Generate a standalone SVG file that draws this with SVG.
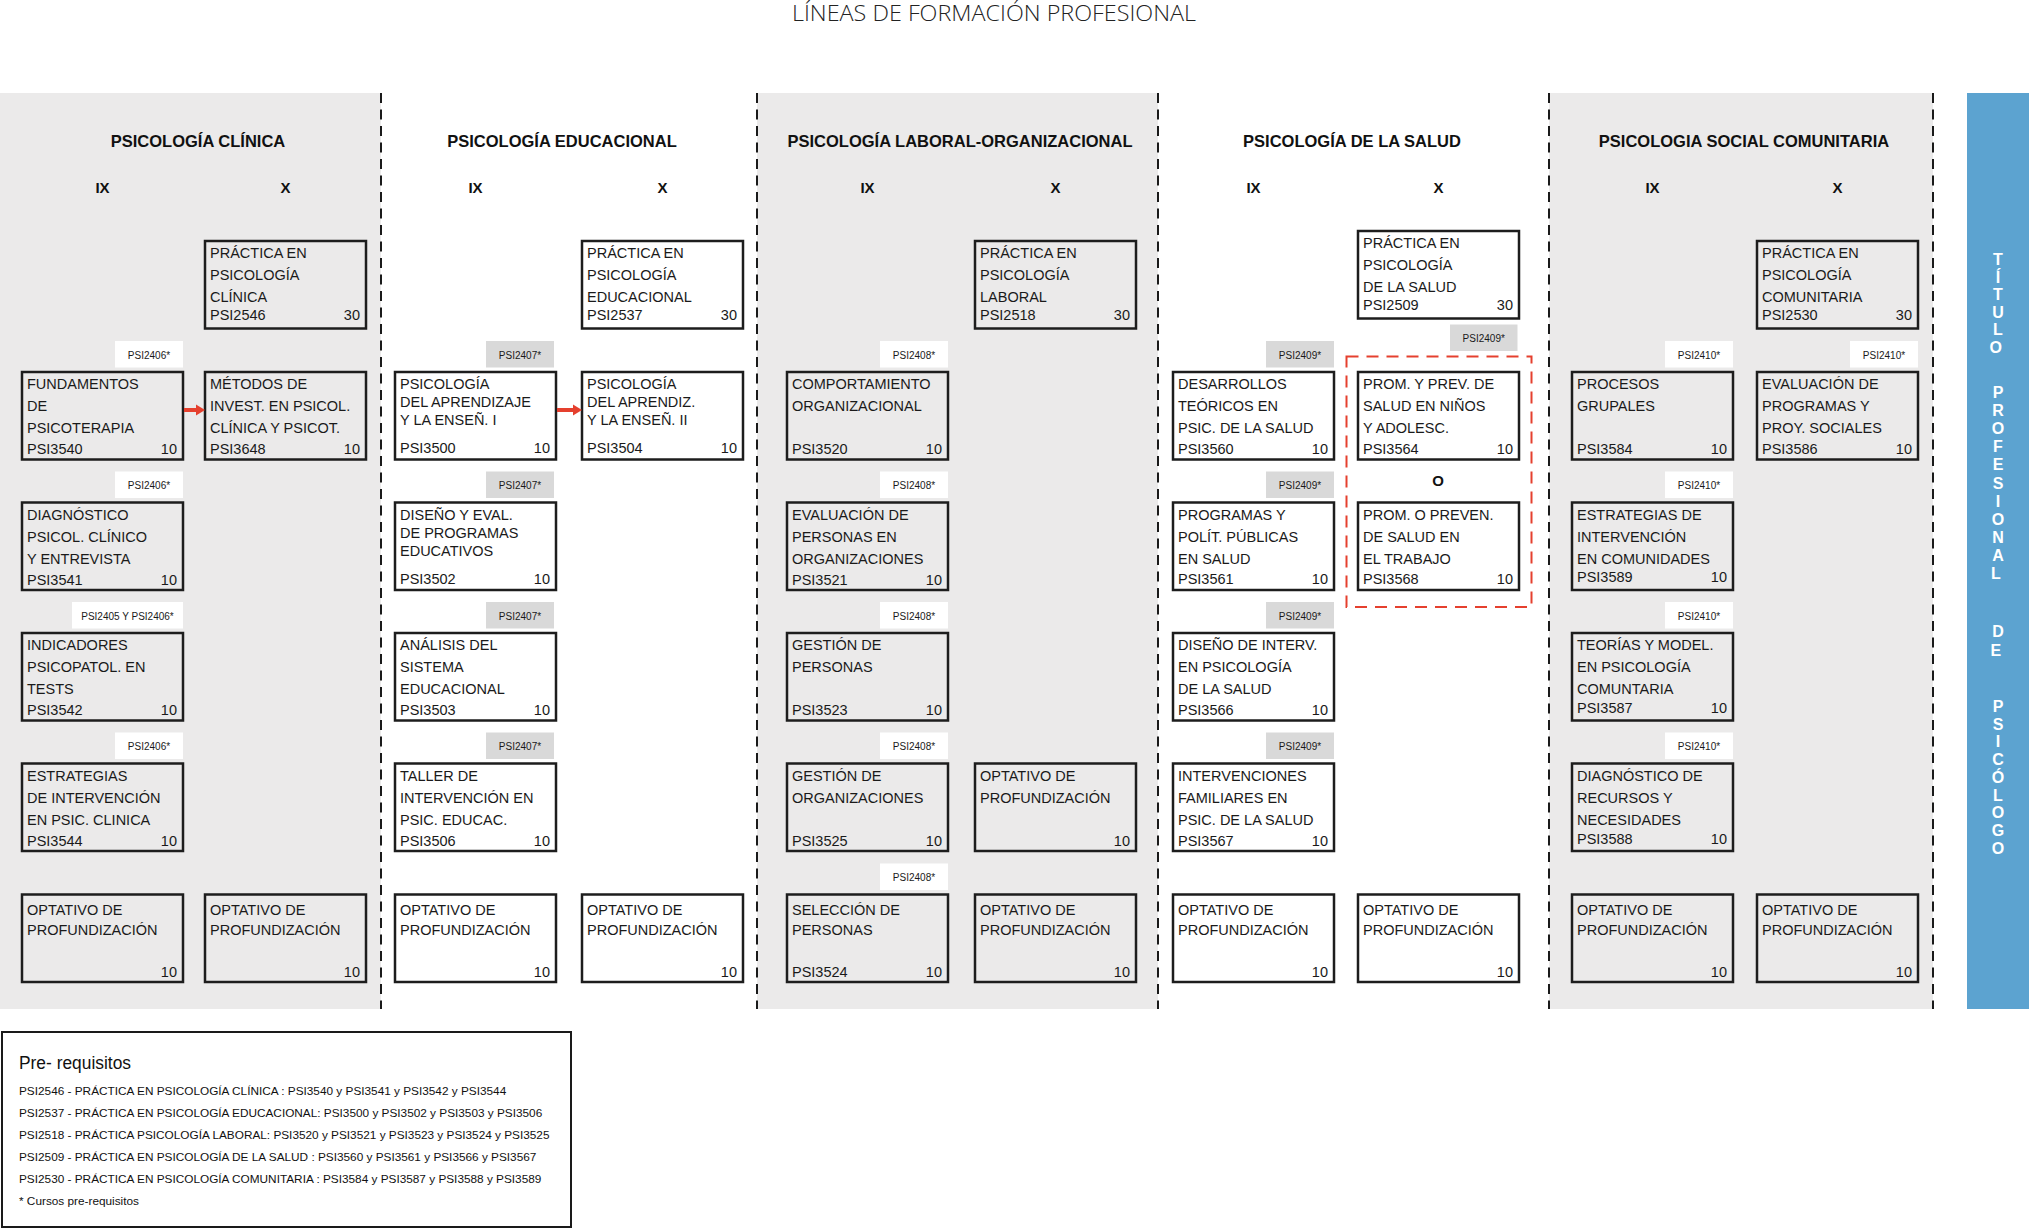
<svg xmlns="http://www.w3.org/2000/svg" width="2029" height="1230" viewBox="0 0 2029 1230">
<style>
.panel{fill:#ebeaea}
.div{stroke:#1a1a1a;stroke-width:2;stroke-dasharray:10 6.5;fill:none}
.box{fill:none;stroke:#1d1d1d;stroke-width:2.5}
.t{font-family:"Liberation Sans",Arial,sans-serif;font-size:14.5px;fill:#1a1a1a}
.n{text-anchor:end}
.tagw{fill:#ffffff}
.tagg{fill:#d9d9d9}
.tt{font-family:"Liberation Sans",Arial,sans-serif;font-size:10px;fill:#1a1a1a;text-anchor:middle}
.h{font-family:"Liberation Sans",Arial,sans-serif;font-weight:bold;font-size:16.5px;fill:#111;text-anchor:middle}
.sem{font-family:"Liberation Sans",Arial,sans-serif;font-weight:bold;font-size:15px;fill:#111;text-anchor:middle}
.red{stroke:#e5402e;stroke-width:4;fill:none}
.vt{font-family:"Liberation Sans",Arial,sans-serif;font-weight:bold;font-size:16px;fill:#ffffff;text-anchor:middle}
.pr{font-family:"Liberation Sans",Arial,sans-serif;font-size:11.8px;fill:#111}
</style>
<defs>
<marker id="ah" viewBox="0 0 10 12" refX="0" refY="6" markerWidth="9" markerHeight="12" markerUnits="userSpaceOnUse" orient="auto">
<path d="M0,0 L10,6 L0,12 Z" fill="#e5402e"/>
</marker>
</defs>
<rect width="2029" height="1230" fill="#ffffff"/>
<text x="994" y="21" text-anchor="middle" textLength="404" lengthAdjust="spacingAndGlyphs" font-family="'Open Sans','Liberation Sans',sans-serif" font-weight="300" font-size="22" fill="#222">LÍNEAS DE FORMACIÓN PROFESIONAL</text>

<g id="panels">
<rect class="panel" x="0" y="93" width="381" height="916"/>
<rect class="panel" x="757" y="93" width="401" height="916"/>
<rect class="panel" x="1549" y="93" width="384" height="916"/>
<path class="div" d="M381,93 V1009 M757,93 V1009 M1158,93 V1009 M1549,93 V1009 M1933,93 V1009"/>
</g>

<g id="titulo">
<rect x="1967" y="93" width="62" height="916" fill="#5ca3d0"/>
<text class="vt">
<tspan x="1998" y="265">T</tspan><tspan x="1998" y="282.6">Í</tspan><tspan x="1998" y="300.2">T</tspan><tspan x="1998" y="317.8">U</tspan><tspan x="1998" y="335.4">L</tspan><tspan x="1998" y="353">O</tspan>
<tspan x="1998" y="398">P</tspan><tspan x="1998" y="416.1">R</tspan><tspan x="1998" y="434.2">O</tspan><tspan x="1998" y="452.3">F</tspan><tspan x="1998" y="470.4">E</tspan><tspan x="1998" y="488.5">S</tspan><tspan x="1998" y="506.6">I</tspan><tspan x="1998" y="524.7">O</tspan><tspan x="1998" y="542.8">N</tspan><tspan x="1998" y="560.9">A</tspan><tspan x="1998" y="579">L</tspan>
<tspan x="1998" y="637">D</tspan><tspan x="1998" y="656">E</tspan>
<tspan x="1998" y="712">P</tspan><tspan x="1998" y="729.7">S</tspan><tspan x="1998" y="747.4">I</tspan><tspan x="1998" y="765.1">C</tspan><tspan x="1998" y="782.8">Ó</tspan><tspan x="1998" y="800.5">L</tspan><tspan x="1998" y="818.2">O</tspan><tspan x="1998" y="835.9">G</tspan><tspan x="1998" y="853.6">O</tspan>
</text>
</g>

<g id="headers">
<text class="h" x="198" y="147">PSICOLOGÍA CLÍNICA</text>
<text class="h" x="562" y="147">PSICOLOGÍA EDUCACIONAL</text>
<text class="h" x="960" y="147">PSICOLOGÍA LABORAL-ORGANIZACIONAL</text>
<text class="h" x="1352" y="147">PSICOLOGÍA DE LA SALUD</text>
<text class="h" x="1744" y="147">PSICOLOGIA SOCIAL COMUNITARIA</text>
<text class="sem" x="102.5" y="193">IX</text><text class="sem" x="285.5" y="193">X</text>
<text class="sem" x="475.5" y="193">IX</text><text class="sem" x="662.5" y="193">X</text>
<text class="sem" x="867.5" y="193">IX</text><text class="sem" x="1055.5" y="193">X</text>
<text class="sem" x="1253.5" y="193">IX</text><text class="sem" x="1438.5" y="193">X</text>
<text class="sem" x="1652.5" y="193">IX</text><text class="sem" x="1837.5" y="193">X</text>
</g>

<!-- CLINICA -->
<g id="psi2546" transform="translate(205,241)"><rect class="box" width="161" height="87.5"/><text class="t"><tspan x="5" y="17">PRÁCTICA EN</tspan><tspan x="5" y="39">PSICOLOGÍA</tspan><tspan x="5" y="61">CLÍNICA</tspan><tspan x="5" y="79">PSI2546</tspan></text><text class="t n" x="155" y="79">30</text></g>
<g id="psi3540" transform="translate(22,372)"><rect class="tagw" x="93" y="-31" width="68" height="26.5"/><text class="tt" x="127" y="-13.5">PSI2406*</text><rect class="box" width="161" height="87.5"/><text class="t"><tspan x="5" y="17">FUNDAMENTOS</tspan><tspan x="5" y="39">DE</tspan><tspan x="5" y="61">PSICOTERAPIA</tspan><tspan x="5" y="82">PSI3540</tspan></text><text class="t n" x="155" y="82">10</text></g>
<g id="psi3648" transform="translate(205,372)"><rect class="box" width="161" height="87.5"/><text class="t"><tspan x="5" y="17">MÉTODOS DE</tspan><tspan x="5" y="39">INVEST. EN PSICOL.</tspan><tspan x="5" y="61">CLÍNICA Y PSICOT.</tspan><tspan x="5" y="82">PSI3648</tspan></text><text class="t n" x="155" y="82">10</text></g>
<g id="psi3541" transform="translate(22,502.5)"><rect class="tagw" x="93" y="-31" width="68" height="26.5"/><text class="tt" x="127" y="-13.5">PSI2406*</text><rect class="box" width="161" height="87.5"/><text class="t"><tspan x="5" y="17">DIAGNÓSTICO</tspan><tspan x="5" y="39">PSICOL. CLÍNICO</tspan><tspan x="5" y="61">Y ENTREVISTA</tspan><tspan x="5" y="82">PSI3541</tspan></text><text class="t n" x="155" y="82">10</text></g>
<g id="psi3542" transform="translate(22,633)"><rect class="tagw" x="50" y="-31" width="111" height="26.5"/><text class="tt" x="105.5" y="-13.5">PSI2405 Y PSI2406*</text><rect class="box" width="161" height="87.5"/><text class="t"><tspan x="5" y="17">INDICADORES</tspan><tspan x="5" y="39">PSICOPATOL. EN</tspan><tspan x="5" y="61">TESTS</tspan><tspan x="5" y="82">PSI3542</tspan></text><text class="t n" x="155" y="82">10</text></g>
<g id="psi3544" transform="translate(22,763.5)"><rect class="tagw" x="93" y="-31" width="68" height="26.5"/><text class="tt" x="127" y="-13.5">PSI2406*</text><rect class="box" width="161" height="87.5"/><text class="t"><tspan x="5" y="17">ESTRATEGIAS</tspan><tspan x="5" y="39">DE INTERVENCIÓN</tspan><tspan x="5" y="61">EN PSIC. CLINICA</tspan><tspan x="5" y="82">PSI3544</tspan></text><text class="t n" x="155" y="82">10</text></g>
<g id="opt-cli-ix" transform="translate(22,894.5)"><rect class="box" width="161" height="87.5"/><text class="t"><tspan x="5" y="20">OPTATIVO DE</tspan><tspan x="5" y="40">PROFUNDIZACIÓN</tspan></text><text class="t n" x="155" y="82">10</text></g>
<g id="opt-cli-x" transform="translate(205,894.5)"><rect class="box" width="161" height="87.5"/><text class="t"><tspan x="5" y="20">OPTATIVO DE</tspan><tspan x="5" y="40">PROFUNDIZACIÓN</tspan></text><text class="t n" x="155" y="82">10</text></g>

<!-- EDUCACIONAL -->
<g id="psi2537" transform="translate(582,241)"><rect class="box" width="161" height="87.5"/><text class="t"><tspan x="5" y="17">PRÁCTICA EN</tspan><tspan x="5" y="39">PSICOLOGÍA</tspan><tspan x="5" y="61">EDUCACIONAL</tspan><tspan x="5" y="79">PSI2537</tspan></text><text class="t n" x="155" y="79">30</text></g>
<g id="psi3500" transform="translate(395,372)"><rect class="tagg" x="91" y="-31" width="68" height="26.5"/><text class="tt" x="125" y="-13.5">PSI2407*</text><rect class="box" width="161" height="87.5"/><text class="t"><tspan x="5" y="17">PSICOLOGÍA</tspan><tspan x="5" y="35">DEL APRENDIZAJE</tspan><tspan x="5" y="53">Y LA ENSEÑ. I</tspan><tspan x="5" y="81">PSI3500</tspan></text><text class="t n" x="155" y="81">10</text></g>
<g id="psi3504" transform="translate(582,372)"><rect class="box" width="161" height="87.5"/><text class="t"><tspan x="5" y="17">PSICOLOGÍA</tspan><tspan x="5" y="35">DEL APRENDIZ.</tspan><tspan x="5" y="53">Y LA ENSEÑ. II</tspan><tspan x="5" y="81">PSI3504</tspan></text><text class="t n" x="155" y="81">10</text></g>
<g id="psi3502" transform="translate(395,502.5)"><rect class="tagg" x="91" y="-31" width="68" height="26.5"/><text class="tt" x="125" y="-13.5">PSI2407*</text><rect class="box" width="161" height="87.5"/><text class="t"><tspan x="5" y="17">DISEÑO Y EVAL.</tspan><tspan x="5" y="35">DE PROGRAMAS</tspan><tspan x="5" y="53">EDUCATIVOS</tspan><tspan x="5" y="81">PSI3502</tspan></text><text class="t n" x="155" y="81">10</text></g>
<g id="psi3503" transform="translate(395,633)"><rect class="tagg" x="91" y="-31" width="68" height="26.5"/><text class="tt" x="125" y="-13.5">PSI2407*</text><rect class="box" width="161" height="87.5"/><text class="t"><tspan x="5" y="17">ANÁLISIS DEL</tspan><tspan x="5" y="39">SISTEMA</tspan><tspan x="5" y="61">EDUCACIONAL</tspan><tspan x="5" y="82">PSI3503</tspan></text><text class="t n" x="155" y="82">10</text></g>
<g id="psi3506" transform="translate(395,763.5)"><rect class="tagg" x="91" y="-31" width="68" height="26.5"/><text class="tt" x="125" y="-13.5">PSI2407*</text><rect class="box" width="161" height="87.5"/><text class="t"><tspan x="5" y="17">TALLER DE</tspan><tspan x="5" y="39">INTERVENCIÓN EN</tspan><tspan x="5" y="61">PSIC. EDUCAC.</tspan><tspan x="5" y="82">PSI3506</tspan></text><text class="t n" x="155" y="82">10</text></g>
<g id="opt-edu-ix" transform="translate(395,894.5)"><rect class="box" width="161" height="87.5"/><text class="t"><tspan x="5" y="20">OPTATIVO DE</tspan><tspan x="5" y="40">PROFUNDIZACIÓN</tspan></text><text class="t n" x="155" y="82">10</text></g>
<g id="opt-edu-x" transform="translate(582,894.5)"><rect class="box" width="161" height="87.5"/><text class="t"><tspan x="5" y="20">OPTATIVO DE</tspan><tspan x="5" y="40">PROFUNDIZACIÓN</tspan></text><text class="t n" x="155" y="82">10</text></g>

<!-- LABORAL -->
<g id="psi2518" transform="translate(975,241)"><rect class="box" width="161" height="87.5"/><text class="t"><tspan x="5" y="17">PRÁCTICA EN</tspan><tspan x="5" y="39">PSICOLOGÍA</tspan><tspan x="5" y="61">LABORAL</tspan><tspan x="5" y="79">PSI2518</tspan></text><text class="t n" x="155" y="79">30</text></g>
<g id="psi3520" transform="translate(787,372)"><rect class="tagw" x="93" y="-31" width="68" height="26.5"/><text class="tt" x="127" y="-13.5">PSI2408*</text><rect class="box" width="161" height="87.5"/><text class="t"><tspan x="5" y="17">COMPORTAMIENTO</tspan><tspan x="5" y="39">ORGANIZACIONAL</tspan><tspan x="5" y="82">PSI3520</tspan></text><text class="t n" x="155" y="82">10</text></g>
<g id="psi3521" transform="translate(787,502.5)"><rect class="tagw" x="93" y="-31" width="68" height="26.5"/><text class="tt" x="127" y="-13.5">PSI2408*</text><rect class="box" width="161" height="87.5"/><text class="t"><tspan x="5" y="17">EVALUACIÓN DE</tspan><tspan x="5" y="39">PERSONAS EN</tspan><tspan x="5" y="61">ORGANIZACIONES</tspan><tspan x="5" y="82">PSI3521</tspan></text><text class="t n" x="155" y="82">10</text></g>
<g id="psi3523" transform="translate(787,633)"><rect class="tagw" x="93" y="-31" width="68" height="26.5"/><text class="tt" x="127" y="-13.5">PSI2408*</text><rect class="box" width="161" height="87.5"/><text class="t"><tspan x="5" y="17">GESTIÓN DE</tspan><tspan x="5" y="39">PERSONAS</tspan><tspan x="5" y="82">PSI3523</tspan></text><text class="t n" x="155" y="82">10</text></g>
<g id="psi3525" transform="translate(787,763.5)"><rect class="tagw" x="93" y="-31" width="68" height="26.5"/><text class="tt" x="127" y="-13.5">PSI2408*</text><rect class="box" width="161" height="87.5"/><text class="t"><tspan x="5" y="17">GESTIÓN DE</tspan><tspan x="5" y="39">ORGANIZACIONES</tspan><tspan x="5" y="82">PSI3525</tspan></text><text class="t n" x="155" y="82">10</text></g>
<g id="opt-lab-x4" transform="translate(975,763.5)"><rect class="box" width="161" height="87.5"/><text class="t"><tspan x="5" y="17">OPTATIVO DE</tspan><tspan x="5" y="39">PROFUNDIZACIÓN</tspan></text><text class="t n" x="155" y="82">10</text></g>
<g id="psi3524" transform="translate(787,894.5)"><rect class="tagw" x="93" y="-31" width="68" height="26.5"/><text class="tt" x="127" y="-13.5">PSI2408*</text><rect class="box" width="161" height="87.5"/><text class="t"><tspan x="5" y="20">SELECCIÓN DE</tspan><tspan x="5" y="40">PERSONAS</tspan><tspan x="5" y="82">PSI3524</tspan></text><text class="t n" x="155" y="82">10</text></g>
<g id="opt-lab-x5" transform="translate(975,894.5)"><rect class="box" width="161" height="87.5"/><text class="t"><tspan x="5" y="20">OPTATIVO DE</tspan><tspan x="5" y="40">PROFUNDIZACIÓN</tspan></text><text class="t n" x="155" y="82">10</text></g>

<!-- SALUD -->
<g id="psi2509" transform="translate(1358,231)"><rect class="box" width="161" height="87.5"/><text class="t"><tspan x="5" y="16.5">PRÁCTICA EN</tspan><tspan x="5" y="38.5">PSICOLOGÍA</tspan><tspan x="5" y="60.5">DE LA SALUD</tspan><tspan x="5" y="78.5">PSI2509</tspan></text><text class="t n" x="155" y="78.5">30</text></g>
<g id="tag-salud-x" transform="translate(1450,324.5)"><rect class="tagg" width="67.5" height="26.5"/><text class="tt" x="33.75" y="17.5">PSI2409*</text></g>
<g id="psi3560" transform="translate(1173,372)"><rect class="tagg" x="93" y="-31" width="68" height="26.5"/><text class="tt" x="127" y="-13.5">PSI2409*</text><rect class="box" width="161" height="87.5"/><text class="t"><tspan x="5" y="17">DESARROLLOS</tspan><tspan x="5" y="39">TEÓRICOS EN</tspan><tspan x="5" y="61">PSIC. DE LA SALUD</tspan><tspan x="5" y="81.5">PSI3560</tspan></text><text class="t n" x="155" y="81.5">10</text></g>
<g id="psi3564" transform="translate(1358,372)"><rect class="box" width="161" height="87.5"/><text class="t"><tspan x="5" y="17">PROM. Y PREV. DE</tspan><tspan x="5" y="39">SALUD EN NIÑOS</tspan><tspan x="5" y="61">Y ADOLESC.</tspan><tspan x="5" y="81.5">PSI3564</tspan></text><text class="t n" x="155" y="81.5">10</text></g>
<g id="psi3561" transform="translate(1173,502.5)"><rect class="tagg" x="93" y="-31" width="68" height="26.5"/><text class="tt" x="127" y="-13.5">PSI2409*</text><rect class="box" width="161" height="87.5"/><text class="t"><tspan x="5" y="17">PROGRAMAS Y</tspan><tspan x="5" y="39">POLÍT. PÚBLICAS</tspan><tspan x="5" y="61">EN SALUD</tspan><tspan x="5" y="81.5">PSI3561</tspan></text><text class="t n" x="155" y="81.5">10</text></g>
<g id="psi3568" transform="translate(1358,502.5)"><rect class="box" width="161" height="87.5"/><text class="t"><tspan x="5" y="17">PROM. O PREVEN.</tspan><tspan x="5" y="39">DE SALUD EN</tspan><tspan x="5" y="61">EL TRABAJO</tspan><tspan x="5" y="81.5">PSI3568</tspan></text><text class="t n" x="155" y="81.5">10</text></g>
<g id="opcion-o"><rect x="1346.5" y="356.5" width="185" height="250.5" fill="none" stroke="#e5402e" stroke-width="2" stroke-dasharray="12 8"/><text class="sem" x="1438" y="485.5">O</text></g>
<g id="psi3566" transform="translate(1173,633)"><rect class="tagg" x="93" y="-31" width="68" height="26.5"/><text class="tt" x="127" y="-13.5">PSI2409*</text><rect class="box" width="161" height="87.5"/><text class="t"><tspan x="5" y="17">DISEÑO DE INTERV.</tspan><tspan x="5" y="39">EN PSICOLOGÍA</tspan><tspan x="5" y="61">DE LA SALUD</tspan><tspan x="5" y="82">PSI3566</tspan></text><text class="t n" x="155" y="82">10</text></g>
<g id="psi3567" transform="translate(1173,763.5)"><rect class="tagg" x="93" y="-31" width="68" height="26.5"/><text class="tt" x="127" y="-13.5">PSI2409*</text><rect class="box" width="161" height="87.5"/><text class="t"><tspan x="5" y="17">INTERVENCIONES</tspan><tspan x="5" y="39">FAMILIARES EN</tspan><tspan x="5" y="61">PSIC. DE LA SALUD</tspan><tspan x="5" y="82">PSI3567</tspan></text><text class="t n" x="155" y="82">10</text></g>
<g id="opt-sal-ix" transform="translate(1173,894.5)"><rect class="box" width="161" height="87.5"/><text class="t"><tspan x="5" y="20">OPTATIVO DE</tspan><tspan x="5" y="40">PROFUNDIZACIÓN</tspan></text><text class="t n" x="155" y="82">10</text></g>
<g id="opt-sal-x" transform="translate(1358,894.5)"><rect class="box" width="161" height="87.5"/><text class="t"><tspan x="5" y="20">OPTATIVO DE</tspan><tspan x="5" y="40">PROFUNDIZACIÓN</tspan></text><text class="t n" x="155" y="82">10</text></g>

<!-- SOCIAL COMUNITARIA -->
<g id="psi2530" transform="translate(1757,241)"><rect class="box" width="161" height="87.5"/><text class="t"><tspan x="5" y="17">PRÁCTICA EN</tspan><tspan x="5" y="39">PSICOLOGÍA</tspan><tspan x="5" y="61">COMUNITARIA</tspan><tspan x="5" y="79">PSI2530</tspan></text><text class="t n" x="155" y="79">30</text></g>
<g id="psi3584" transform="translate(1572,372)"><rect class="tagw" x="93" y="-31" width="68" height="26.5"/><text class="tt" x="127" y="-13.5">PSI2410*</text><rect class="box" width="161" height="87.5"/><text class="t"><tspan x="5" y="17">PROCESOS</tspan><tspan x="5" y="39">GRUPALES</tspan><tspan x="5" y="82">PSI3584</tspan></text><text class="t n" x="155" y="82">10</text></g>
<g id="psi3586" transform="translate(1757,372)"><rect class="tagw" x="93" y="-31" width="68" height="26.5"/><text class="tt" x="127" y="-13.5">PSI2410*</text><rect class="box" width="161" height="87.5"/><text class="t"><tspan x="5" y="17">EVALUACIÓN DE</tspan><tspan x="5" y="39">PROGRAMAS Y</tspan><tspan x="5" y="61">PROY. SOCIALES</tspan><tspan x="5" y="82">PSI3586</tspan></text><text class="t n" x="155" y="82">10</text></g>
<g id="psi3589" transform="translate(1572,502.5)"><rect class="tagw" x="93" y="-31" width="68" height="26.5"/><text class="tt" x="127" y="-13.5">PSI2410*</text><rect class="box" width="161" height="87.5"/><text class="t"><tspan x="5" y="17">ESTRATEGIAS DE</tspan><tspan x="5" y="39">INTERVENCIÓN</tspan><tspan x="5" y="61">EN COMUNIDADES</tspan><tspan x="5" y="79">PSI3589</tspan></text><text class="t n" x="155" y="79">10</text></g>
<g id="psi3587" transform="translate(1572,633)"><rect class="tagw" x="93" y="-31" width="68" height="26.5"/><text class="tt" x="127" y="-13.5">PSI2410*</text><rect class="box" width="161" height="87.5"/><text class="t"><tspan x="5" y="17">TEORÍAS Y MODEL.</tspan><tspan x="5" y="39">EN PSICOLOGÍA</tspan><tspan x="5" y="61">COMUNTARIA</tspan><tspan x="5" y="80">PSI3587</tspan></text><text class="t n" x="155" y="80">10</text></g>
<g id="psi3588" transform="translate(1572,763.5)"><rect class="tagw" x="93" y="-31" width="68" height="26.5"/><text class="tt" x="127" y="-13.5">PSI2410*</text><rect class="box" width="161" height="87.5"/><text class="t"><tspan x="5" y="17">DIAGNÓSTICO DE</tspan><tspan x="5" y="39">RECURSOS Y</tspan><tspan x="5" y="61">NECESIDADES</tspan><tspan x="5" y="80">PSI3588</tspan></text><text class="t n" x="155" y="80">10</text></g>
<g id="opt-soc-ix" transform="translate(1572,894.5)"><rect class="box" width="161" height="87.5"/><text class="t"><tspan x="5" y="20">OPTATIVO DE</tspan><tspan x="5" y="40">PROFUNDIZACIÓN</tspan></text><text class="t n" x="155" y="82">10</text></g>
<g id="opt-soc-x" transform="translate(1757,894.5)"><rect class="box" width="161" height="87.5"/><text class="t"><tspan x="5" y="20">OPTATIVO DE</tspan><tspan x="5" y="40">PROFUNDIZACIÓN</tspan></text><text class="t n" x="155" y="82">10</text></g>

<g id="connectors">
<line class="red" x1="184" y1="410" x2="196" y2="410" marker-end="url(#ah)"/>
<line class="red" x1="557" y1="410" x2="573" y2="410" marker-end="url(#ah)"/>
</g>

<g id="prerequisitos">
<rect x="2" y="1032" width="569" height="195" fill="#fff" stroke="#1a1a1a" stroke-width="2"/>
<text x="19" y="1069" font-family="'Liberation Sans',Arial,sans-serif" font-size="17.5" fill="#111" textLength="112" lengthAdjust="spacingAndGlyphs">Pre- requisitos</text>
<text class="pr" x="19" y="1095">PSI2546 - PRÁCTICA EN PSICOLOGÍA CLÍNICA : PSI3540 y PSI3541 y PSI3542 y PSI3544</text>
<text class="pr" x="19" y="1117">PSI2537 - PRÁCTICA EN PSICOLOGÍA EDUCACIONAL: PSI3500 y PSI3502 y PSI3503 y PSI3506</text>
<text class="pr" x="19" y="1139">PSI2518 - PRÁCTICA PSICOLOGÍA LABORAL: PSI3520 y PSI3521 y PSI3523 y PSI3524 y PSI3525</text>
<text class="pr" x="19" y="1161">PSI2509 - PRÁCTICA EN PSICOLOGÍA DE LA SALUD : PSI3560 y PSI3561 y PSI3566 y PSI3567</text>
<text class="pr" x="19" y="1183">PSI2530 - PRÁCTICA EN PSICOLOGÍA COMUNITARIA : PSI3584 y PSI3587 y PSI3588 y PSI3589</text>
<text class="pr" x="19" y="1205" font-size="11">* Cursos pre-requisitos</text>
</g>
</svg>
